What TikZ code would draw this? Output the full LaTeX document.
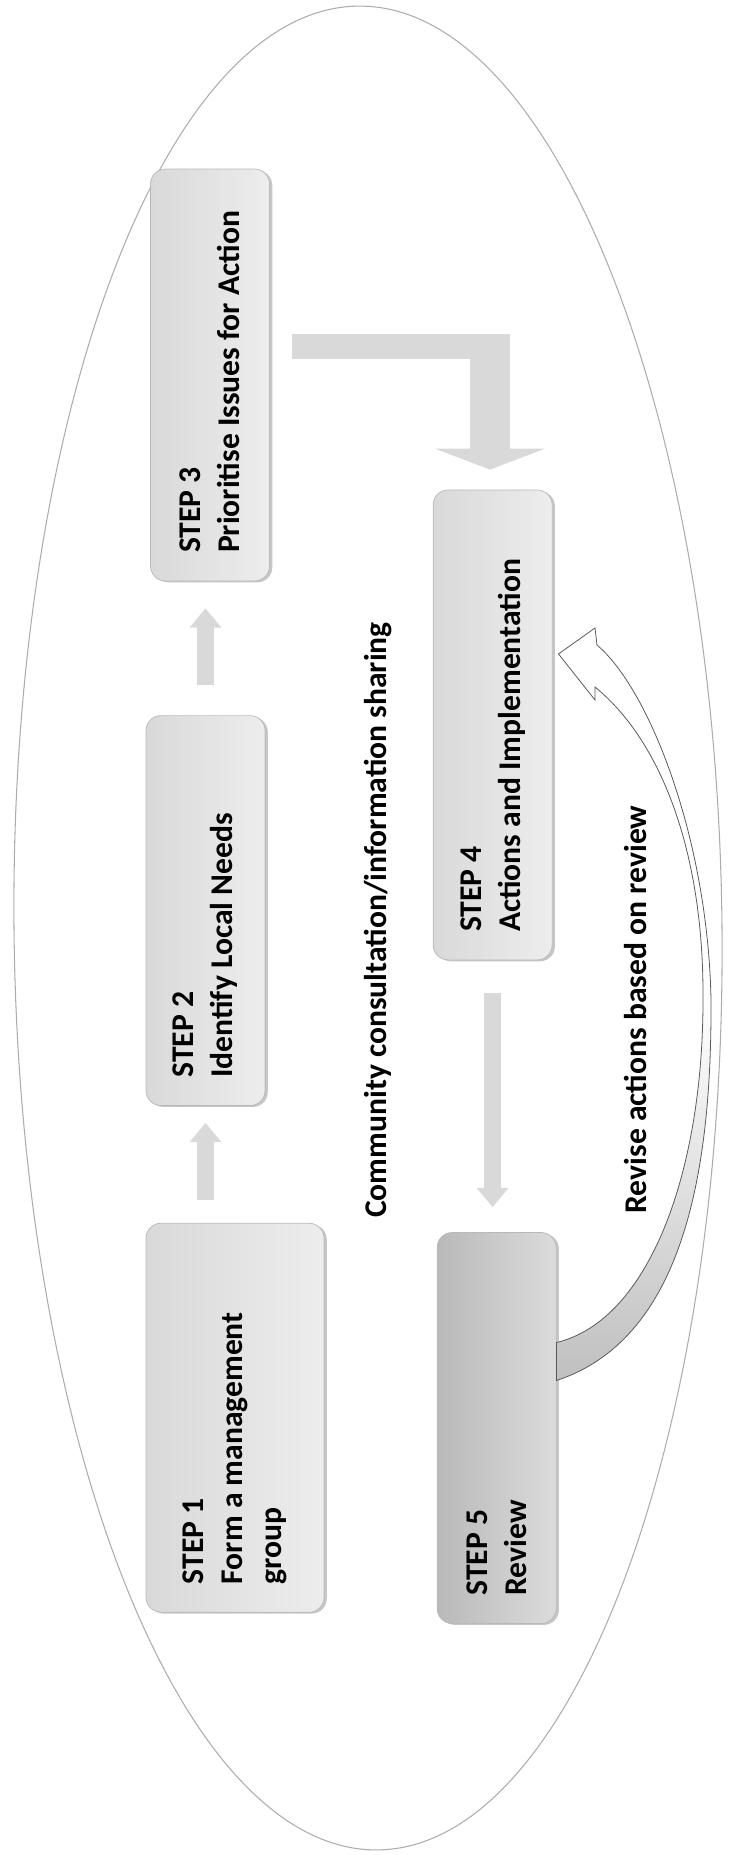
\documentclass[tikz,border=0pt]{standalone}
\usepackage{fontspec}
\setmainfont{Carlito}
\usepackage{graphicx}
\usetikzlibrary{positioning,arrows.meta,shadows}

\newcommand{\steptext}[2]{\rotatebox{90}{\parbox{#1}{\raggedright #2}}}

\begin{document}
\begin{tikzpicture}[x=0.02cm,y=-0.02cm,
		stepbox/.style={rounded corners=8.5pt,draw=gray!55,line width=0.4pt,inner sep=0pt,
			minimum width=2.38cm,font=\fontsize{18}{22.2}\selectfont\bfseries,
			drop shadow={shadow xshift=1.6pt,shadow yshift=-0.8pt,opacity=0.45}},
		palestep/.style={stepbox,left color=gray!30,right color=gray!14},
		darkstep/.style={stepbox,left color=gray!55,right color=gray!28},
		flow/.style={draw=gray!30,line width=9.4pt,-{Triangle[length=11pt,width=17.5pt]}},
		flowbar/.style={draw=gray!30,line width=14.2pt},
		revise/.style={draw=black!65,line width=0.45pt,top color=white,bottom color=gray!50,middle color=white},
		note/.style={rotate=90,anchor=base,font=\fontsize{18}{22.2}\selectfont\bfseries}]

		\useasboundingbox (0,0) rectangle (729,1855);
		\draw[gray!65,line width=0.6pt,rotate around={0.6:(368,928)}] (368,928) ellipse [x radius=354,y radius=922];

		\node[palestep,minimum height=8.24cm]												(s3)	at (210,375) {\steptext{7.12cm}{STEP 3\\Prioritise Issues for Action}};
		\node[palestep,minimum height=7.8cm,below=2.68cm of s3,xshift=-0.09cm]			(s2)	{\steptext{6.68cm}{STEP 2\\Identify Local Needs}};
		\node[palestep,minimum height=7.78cm,minimum width=3.56cm,below=2.34cm of s2.south west,anchor=north west]	(s1)	{\steptext{6.66cm}{STEP 1\\Form a management\\group}};
		\node[palestep,minimum height=9.4cm,right=3.26cm of s3.north east,anchor=north west,yshift=-6.42cm]	(s4)	{\steptext{8.28cm}{STEP 4\\Actions and Implementation}};
		\node[darkstep,minimum height=7.82cm,below=5.44cm of s4,xshift=0.08cm]			(s5)	{\steptext{6.7cm}{STEP 5\\Review}};

		\node[note]	(cc)	at (386,920)	{Community consultation/information sharing};
		\node[note]	(rev)	at (646,1009.5)	{Revise actions based on review};

		\draw[flow,shorten <=0.46cm,shorten >=0.34cm] (s2.south |- s1.north) -- (s2.south);
		\draw[flow,shorten <=0.6cm,shorten >=0.54cm] (s2.north) -- (s2.north |- s3.south);
		\draw[flow,shorten <=0.66cm,shorten >=0.5cm] (s4.south) -- (s4.south |- s5.north);

		\coordinate (bend) at (490,346.5);
		\draw[flowbar,shorten <=0.44cm] (s3.east |- bend) -- ([xshift=0.38cm]bend);
		\draw[draw=gray!30,line width=22.8pt,-{Triangle[length=12pt,width=62.6pt]},shorten >=0.4cm] ([yshift=0.25cm]bend) -- (bend |- s4.north);

		\coordinate (revtip) at ([xshift=0.12cm,yshift=1.42cm]s4.east);
		\draw[revise] (revtip) -- (595,628) -- (597,645)
			.. controls (650,690) and (708,840) .. (711,1000)
			.. controls (712,1180) and (680,1340) .. ([yshift=0.95cm]s5.east)
			-- ([yshift=1.71cm]s5.east)
			.. controls (650,1320) and (703,1170) .. (703,1000)
			.. controls (704,850) and (660,740) .. (595,687)
			-- (595,700) -- cycle;
	\end{tikzpicture}
\end{document}
